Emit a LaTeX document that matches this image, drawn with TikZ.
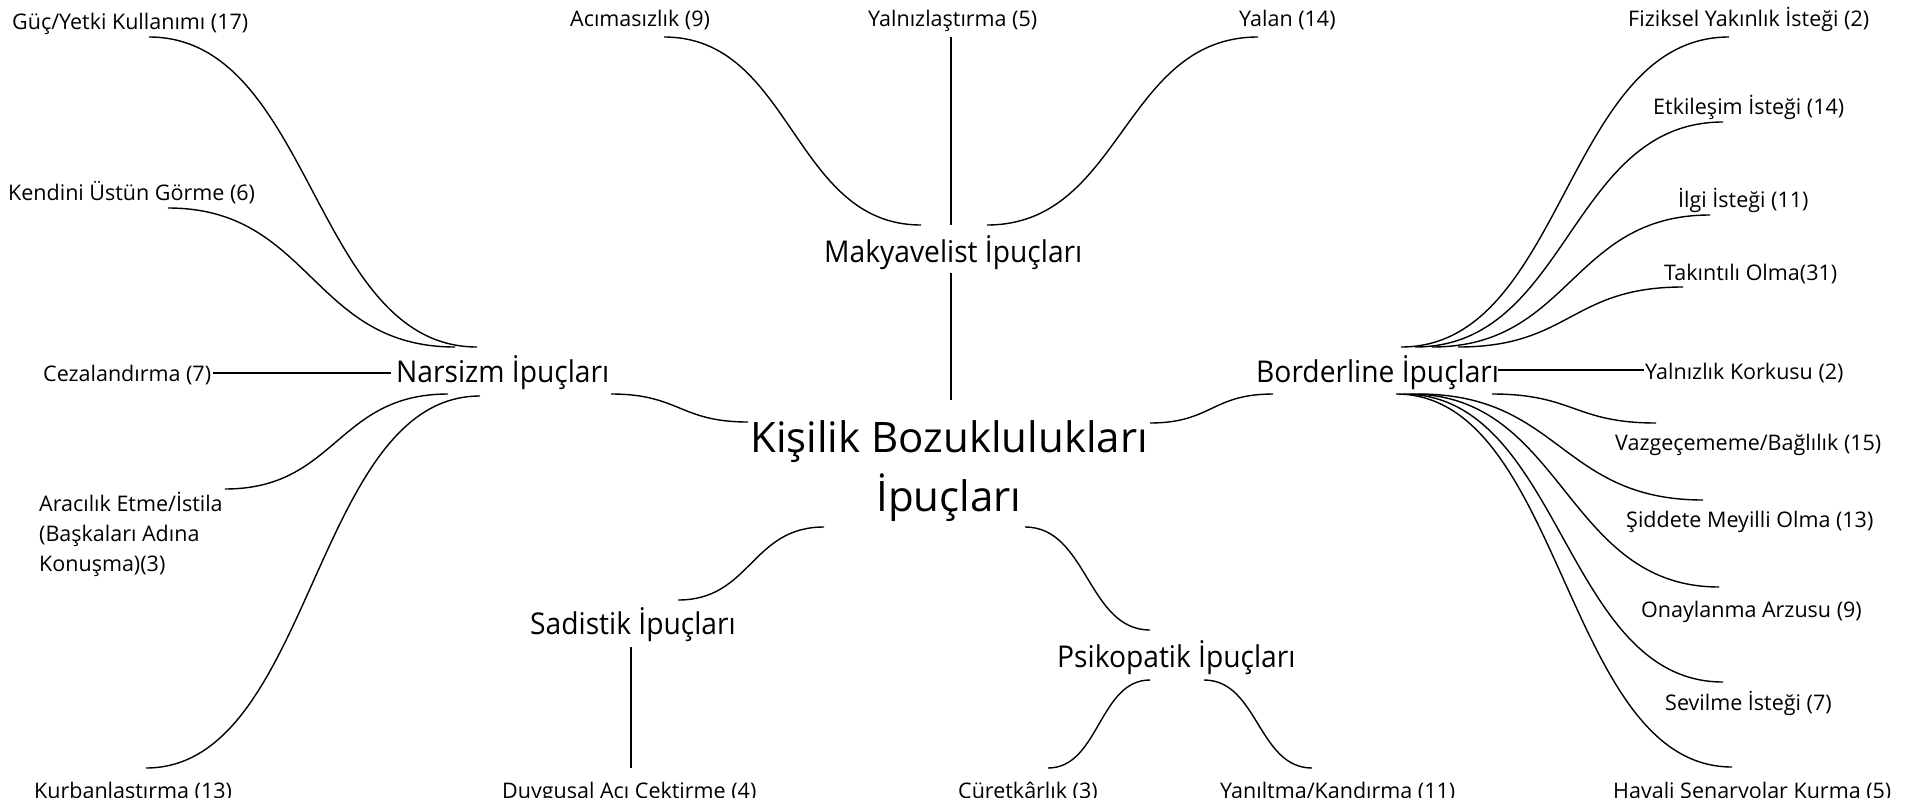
\documentclass[tikz,border=0pt]{standalone}
\usepackage{fontspec}
\setmainfont{Open Sans}
\newfontfamily\midfont{Open Sans}[FakeStretch=0.94]
\usetikzlibrary{calc}
\begin{document}
\begin{tikzpicture}[x=1pt,y=-1pt,
  lbl/.style={font=\fontsize{21.5}{30}\selectfont, inner sep=0pt, anchor=base west},
  mid/.style={font=\midfont\fontsize{30}{36}\selectfont, inner sep=0pt, anchor=base west},
  big/.style={font=\fontsize{42}{59}\selectfont, inner sep=0pt, align=center},
  link/.style={draw=black, line width=1.4pt},
  sc/.style={to path={let \p1=(\tikztostart), \p2=(\tikztotarget) in .. controls ({(\x1+\x2)/2},\y1) and ({(\x1+\x2)/2},\y2) .. (\tikztotarget)}}
]
\fill[white] (0,0) rectangle (1908,803);
\useasboundingbox (0,0) rectangle (1908,803);

% ---- main node
\node[big] (kis) at (949,471) {Kişilik Bozuklulukları\\İpuçları};

% ---- category nodes
\node[mid] (nar) at (396,382) {Narsizm İpuçları};
\node[mid] (mak) at (824,262) {Makyavelist İpuçları};
\node[mid] (bor) at (1256,382) {Borderline İpuçları};
\node[mid] (sad) at (530,634) {Sadistik İpuçları};
\node[mid] (psi) at (1057,667) {Psikopatik İpuçları};

% ---- leaf nodes
\node[lbl] (guc) at (12,29) {Güç/Yetki Kullanımı (17)};
\node[lbl] (ken) at (8,200) {Kendini Üstün Görme (6)};
\node[lbl] (cez) at (43,381) {Cezalandırma (7)};
\node[lbl, anchor=west, align=left] (ara) at (39,534) {Aracılık Etme/İstila\\(Başkaları Adına\\Konuşma)(3)};

\node[lbl] (aci) at (570,27) {Acımasızlık (9)};
\node[lbl] (yal) at (868,27) {Yalnızlaştırma (5)};
\node[lbl] (yln) at (1239,27) {Yalan (14)};

\node[lbl] (fiz) at (1628,27) {Fiziksel Yakınlık İsteği (2)};
\node[lbl] (etk) at (1653,114) {Etkileşim İsteği (14)};
\node[lbl] (ilg) at (1678,207) {İlgi İsteği (11)};
\node[lbl] (tak) at (1664,280) {Takıntılı Olma(31)};
\node[lbl] (ykk) at (1645,379) {Yalnızlık Korkusu (2)};
\node[lbl] (vaz) at (1615,450) {Vazgeçememe/Bağlılık (15)};
\node[lbl] (sid) at (1626,527) {Şiddete Meyilli Olma (13)};
\node[lbl] (ona) at (1641,617) {Onaylanma Arzusu (9)};
\node[lbl] (sev) at (1665,710) {Sevilme İsteği (7)};

% bottom row: cut off at the lower edge as in the original
\begin{scope}
\clip (0,0) rectangle (1908,797);
\node[lbl] (kur) at (34,798) {Kurbanlaştırma (13)};
\node[lbl] (duy) at (502,798) {Duygusal Acı Çektirme (4)};
\node[lbl] (cur) at (958,798) {Cüretkârlık (3)};
\node[lbl] (yan) at (1220,798) {Yanıltma/Kandırma (11)};
\node[lbl] (hav) at (1613,798) {Havali Senaryolar Kurma (5)};
\end{scope}

% ---- connector end points
\coordinate (guc-e) at (149,37);  \coordinate (nar-a) at (477,347);
\coordinate (ken-e) at (168,208); \coordinate (nar-b) at (455,347);
\coordinate (cez-e) at (213,373); \coordinate (nar-c) at (391,373);
\coordinate (nar-d) at (448,394); \coordinate (ara-e) at (225,489);
\coordinate (nar-e) at (480,396); \coordinate (kur-e) at (146,768);
\coordinate (nar-f) at (611,394); \coordinate (kis-a) at (748,422);

\coordinate (aci-e) at (664,37);  \coordinate (mak-a) at (921,225);
\coordinate (yal-e) at (951,37);  \coordinate (mak-b) at (951,225);
\coordinate (mak-c) at (987,225); \coordinate (yln-e) at (1258,37);
\coordinate (mak-d) at (951,273); \coordinate (kis-b) at (951,400);

\coordinate (kis-c) at (1150,423); \coordinate (bor-a) at (1273,394);
\coordinate (bor-f) at (1401,347); \coordinate (fiz-e) at (1729,37);
\coordinate (bor-g) at (1415,347); \coordinate (etk-e) at (1723,122);
\coordinate (bor-h) at (1432,347); \coordinate (ilg-e) at (1710,215);
\coordinate (bor-i) at (1458,347); \coordinate (tak-e) at (1683,287);
\coordinate (bor-j) at (1498,370); \coordinate (ykk-e) at (1644,370);
\coordinate (bor-k) at (1492,394); \coordinate (vaz-e) at (1656,423);
\coordinate (bor-l) at (1418,394); \coordinate (sid-e) at (1703,500);
\coordinate (bor-m) at (1410,394); \coordinate (ona-e) at (1719,587);
\coordinate (bor-n) at (1403,394); \coordinate (sev-e) at (1723,682);
\coordinate (bor-o) at (1396,394); \coordinate (hav-e) at (1732,767);

\coordinate (kis-d) at (824,527);  \coordinate (sad-a) at (678,600);
\coordinate (sad-b) at (631,647);  \coordinate (duy-e) at (631,768);
\coordinate (kis-e) at (1025,527); \coordinate (psi-a) at (1150,630);
\coordinate (psi-b) at (1150,680); \coordinate (cur-e) at (1048,768);
\coordinate (psi-c) at (1204,680); \coordinate (yan-e) at (1312,768);

% ---- connectors
\draw[link] (guc-e) to[sc] (nar-a);
\draw[link] (ken-e) to[sc] (nar-b);
\draw[link] (cez-e) -- (nar-c);
\draw[link] (nar-d) to[sc] (ara-e);
\draw[link] (nar-e) to[sc] (kur-e);
\draw[link] (nar-f) to[sc] (kis-a);

\draw[link] (aci-e) to[sc] (mak-a);
\draw[link] (yal-e) -- (mak-b);
\draw[link] (mak-c) to[sc] (yln-e);
\draw[link] (mak-d) -- (kis-b);

\draw[link] (kis-c) to[sc] (bor-a);
\draw[link] (bor-f) to[sc] (fiz-e);
\draw[link] (bor-g) to[sc] (etk-e);
\draw[link] (bor-h) to[sc] (ilg-e);
\draw[link] (bor-i) to[sc] (tak-e);
\draw[link] (bor-j) -- (ykk-e);
\draw[link] (bor-k) to[sc] (vaz-e);
\draw[link] (bor-l) to[sc] (sid-e);
\draw[link] (bor-m) to[sc] (ona-e);
\draw[link] (bor-n) to[sc] (sev-e);
\draw[link] (bor-o) to[sc] (hav-e);

\draw[link] (kis-d) to[sc] (sad-a);
\draw[link] (sad-b) -- (duy-e);
\draw[link] (kis-e) to[sc] (psi-a);
\draw[link] (psi-b) to[sc] (cur-e);
\draw[link] (psi-c) to[sc] (yan-e);
\end{tikzpicture}
\end{document}
